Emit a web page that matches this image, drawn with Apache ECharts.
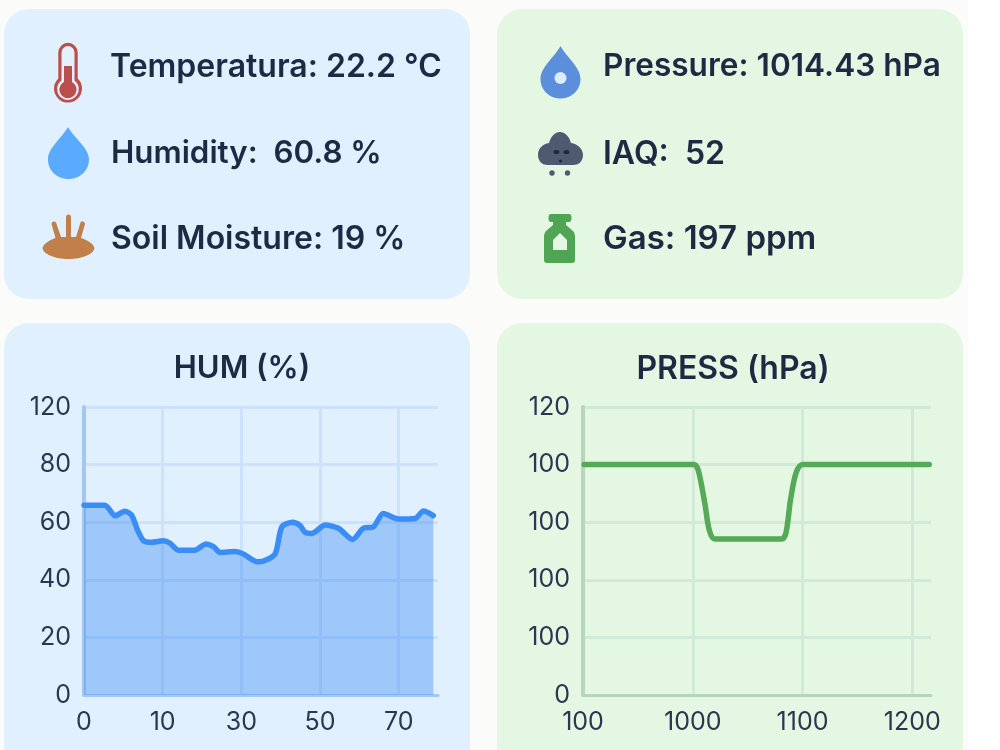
<!DOCTYPE html>
<html>
<head>
<meta charset="utf-8">
<style>html,body{margin:0;padding:0;background:#fff}#c{width:1000px;height:750px}</style>
<script src="https://cdn.jsdelivr.net/npm/echarts@6/dist/echarts.min.js"></script>
</head>
<body>
<div id="c"></div>
<script>
// Sensor readings
const envReadings = ['Temperatura: 22.2 ℃', 'Humidity:  60.8 %', 'Soil Moisture: 19 %'];
const airReadings = ['Pressure: 1014.43 hPa', 'IAQ:  52', 'Gas: 197 ppm'];

// Humidity history
const humX = [0,5.3,6.2,7.9,10.4,12.1,13.6,15.1,17.2,20.2,21.9,24,28.2,31,32.9,34.6,38.4,40.5,43.9,45.6,48.6,50.3,53,54.9,56.2,57.9,61.3,64.7,68.3,71,73.6,76.1,79.9,84.2,86.3,88.8];
const humY = [65.9,65.9,64.9,62.2,63.8,62.5,57.3,53.6,53,53.6,52.7,50.3,50.3,52.4,51.5,49.5,49.8,49,46.3,46.5,49,58.4,60,58.9,56.5,56.1,59,57.9,54,57.9,58.4,63,61.1,61.3,63.9,62.3];
const humXTicks = [0,20,40,60,80];
const humXLabels = ['0','10','30','50','70'];
const humYLabels = ['0','20','40','60','80','120'];

// Pressure history
const pressX = [901,1001,1005,1011,1015,1020,1081,1085,1089,1094,1100,1215.4];
const pressY = [80,80,78,66.5,57.3,54.2,54.2,56.5,67.7,77,80,80];
const pressXTicks = [900,1000,1100,1200];
const pressXLabels = ['100','1000','1100','1200'];
const pressYLabels = ['0','100','100','100','100','120'];

const zip = (a, b) => a.map((v, i) => [v, b[i]]);
const FONT = 'Inter';
const INK = '#1e2a44';

function card(x, y, w, h, fill) {
  return { type: 'rect', shape: { x, y, width: w, height: h, r: 25 }, style: { fill }, silent: true };
}
function label(text, x, y, size, weight, align) {
  return { type: 'text', x, y, silent: true, z: 5,
    style: { text, fill: INK, font: `${weight} ${size}px ${FONT}`, textAlign: align || 'left', textVerticalAlign: 'middle' } };
}
let iconCount = 0;
function icon(d, fill) {
  // Each icon outline becomes its own registered shape class
  const name = 'sensorIcon' + (iconCount++);
  echarts.graphic.registerShape(name, echarts.graphic.extendPath(d));
  return { type: name, style: { fill }, silent: true, z: 5 };
}
function dot(cx, cy, r, fill) {
  return { type: 'circle', shape: { cx, cy, r }, style: { fill }, silent: true, z: 6 };
}
function oval(cx, cy, rx, ry, fill) {
  // The graphic component has no ellipse type, so a scaled circle stands in
  return { type: 'circle', shape: { cx: 0, cy: 0, r: rx }, x: cx, y: cy, scaleY: ry / rx, style: { fill }, silent: true, z: 6 };
}

const BLUE_CARD = '#e0f0ff', GREEN_CARD = '#e4f7e3';

const graphics = [
  { type: 'rect', shape: { x: 0, y: 0, width: 968, height: 750 }, style: { fill: '#fbfbfa' }, silent: true },
  card(4, 9, 466, 290, BLUE_CARD),
  card(497, 9, 466, 290, GREEN_CARD),
  card(4, 323, 466, 460, BLUE_CARD),
  card(497, 323, 466, 460, GREEN_CARD),

  label(envReadings[0], 110, 67, 32, 600),
  label(envReadings[1], 111, 154, 31.3, 600),
  label(envReadings[2], 111, 239, 32, 600),
  label(airReadings[0], 603, 66, 31.6, 600),
  label(airReadings[1], 603, 154, 32, 600),
  label(airReadings[2], 603, 239, 33, 600),
  label('HUM (%)', 242, 369, 31, 600, 'center'),
  label('PRESS (hPa)', 733, 369, 32, 600, 'center'),

  // Thermometer
  icon('M58.3 52.5 A9.7 9.7 0 0 1 77.7 52.5 L77.7 78.5 A14 14 0 1 1 58.3 78.5 Z', '#bb4f4c'),
  icon('M61.5 52.5 A6.5 6.5 0 0 1 74.5 52.5 L74.5 80.5 A10.8 10.8 0 1 1 61.5 80.5 Z', '#e3f0fd'),
  icon('M64 66 L72 66 L72 82 A8.6 8.6 0 1 1 64 82 Z', '#bb4f4c'),
  // Water drop
  icon('M68 127 C61 139 48 148 48 159.5 C48 170.5 57 179 68.5 179 C80 179 89 170.5 89 159.5 C89 148 75 139 68 127 Z', '#5aabff'),
  // Soil with roots
  icon('M42.5 248 C44 243 50 240 55.5 238 L51.5 224 A2.5 2.5 0 0 1 56 222.5 L61 237 L66 237 L66 217 A2.5 2.5 0 0 1 71 217 L71 237 L76 237 L80.5 222.5 A2.5 2.5 0 0 1 85 224 L81 238 C87 240 93 243 94.5 248 C94 254 82 259 68.5 259 C55 259 43 254 42.5 248 Z', '#c17f4a'),

  // Pressure drop
  icon('M560.5 46 C554 58 540.5 67 540.5 79 C540.5 90 549.5 98.5 560.5 98.5 C571.5 98.5 580.5 90 580.5 79 C580.5 67 567 58 560.5 46 Z', '#5b8fdc'),
  dot(560.5, 78, 6, '#dcecfb'),
  // Air quality cloud
  icon('M548 165 C541 165 538 160 538 155 C538 149 542 144 549 143 C551 136 555 132 560 132 C565 132 569 136 571 143 C578 144 583 149 583 155 C583 160 580 165 573 165 Z', '#4d5a70'),
  oval(556.5, 152, 3, 2, '#1e2a3c'),
  oval(566.5, 152, 3, 2, '#1e2a3c'),
  dot(560.5, 161, 1.6, '#1e2a3c'),
  dot(552, 173, 2.7, '#4d5a70'),
  dot(567.5, 173, 2.7, '#4d5a70'),
  // Gas bottle
  icon('M551 214 L569 214 Q571.5 214 571.5 218 Q571.5 222 569 222 L566 222 L566 225 L573 231 Q575 233 575 236 L575 260 Q575 263 572 263 L547 263 Q544 263 544 260 L544 236 Q544 233 546 231 L553 225 L553 222 L551 222 Q548.5 222 548.5 218 Q548.5 214 551 214 Z', '#4fa553'),
  icon('M553 240 L560 233 L567 240 L567 250 L553 250 Z', GREEN_CARD)
];

function axisSet(gridLine, axisLine, xTicks, xLabels, xMin, xMax, gridIndex) {
  const axisLabel = { fontFamily: FONT, fontSize: 25, color: '#2b3651' };
  return {
    x: {
      type: 'value', gridIndex, min: xMin, max: xMax,
      axisLine: { show: true, onZero: false, lineStyle: { color: axisLine, width: 3 } },
      axisTick: { show: false, customValues: xTicks },
      axisLabel: Object.assign({}, axisLabel, { margin: 15, customValues: xTicks,
        formatter: v => xLabels[xTicks.indexOf(v)] }),
      splitLine: { show: true, lineStyle: { color: gridLine, width: 3 } }
    },
    y: yl => ({
      type: 'value', gridIndex, min: 0, max: 100, interval: 20,
      axisLine: { show: true, onZero: false, lineStyle: { color: axisLine, width: 4 } },
      axisTick: { show: false },
      axisLabel: Object.assign({}, axisLabel, { margin: 13, formatter: v => yl[Math.round(v / 20)] }),
      splitLine: { show: true, lineStyle: { color: gridLine, width: 3 } }
    })
  };
}

const humAxes = axisSet('#cbe1fc', '#a6c6f2', humXTicks, humXLabels, 0, 90, 0);
const pressAxes = axisSet('#d0ead7', '#b5d6bd', pressXTicks, pressXLabels, 900, 1217, 1);

const chart = echarts.init(document.getElementById('c'), null, { renderer: 'canvas', width: 1000, height: 750 });
chart.setOption({
  animation: false,
  graphic: { elements: graphics },
  grid: [
    { left: 84, top: 407, width: 354, height: 288 },
    { left: 583, top: 407, width: 348, height: 288 }
  ],
  xAxis: [humAxes.x, pressAxes.x],
  yAxis: [humAxes.y(humYLabels), pressAxes.y(pressYLabels)],
  series: [
    {
      type: 'line', xAxisIndex: 0, yAxisIndex: 0, data: zip(humX, humY),
      smooth: 0.25, showSymbol: false,
      lineStyle: { color: '#3b8df6', width: 5.5, cap: 'round' },
      areaStyle: { color: '#4d94f5', opacity: 0.45 }
    },
    {
      type: 'line', xAxisIndex: 1, yAxisIndex: 1, data: zip(pressX, pressY),
      smooth: 0.3, showSymbol: false,
      lineStyle: { color: '#56a957', width: 5.5, cap: 'round' }
    }
  ]
});
</script>
</body>
</html>
